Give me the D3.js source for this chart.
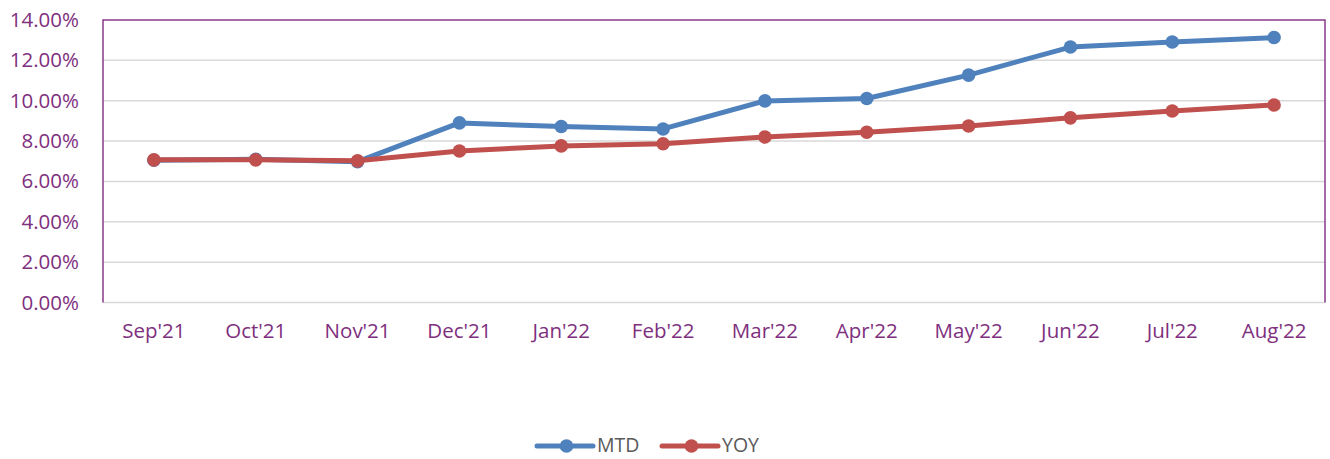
<!DOCTYPE html>
<html><head><meta charset="utf-8">
<script src="https://cdn.jsdelivr.net/npm/d3@7"></script>
<style>
html,body{margin:0;padding:0;background:#fff;}
svg{display:block;}
</style></head>
<body>
<svg id="chart" width="1330" height="459"></svg>
<script>
const categories = ["Sep'21","Oct'21","Nov'21","Dec'21","Jan'22","Feb'22","Mar'22","Apr'22","May'22","Jun'22","Jul'22","Aug'22"];
const mtd = [7.05, 7.10, 6.98, 8.90, 8.72, 8.60, 9.99, 10.11, 11.27, 12.66, 12.91, 13.13];
const yoy = [7.07, 7.07, 7.02, 7.51, 7.76, 7.87, 8.20, 8.44, 8.75, 9.15, 9.49, 9.79];
const yTicks = [0, 2, 4, 6, 8, 10, 12, 14];
const seriesNames = ["MTD", "YOY"];

const colors = {MTD: "#4F81BD", YOY: "#C0504D"};
const textColor = "#7E2F7E";
const borderColor = "#8A3A8A";
const font = "'Open Sans', 'Liberation Sans', sans-serif";
const fs = "20.5px";

const svg = d3.select("#chart");
const m = {left: 103, right: 1325, top: 20, bottom: 302.5};

const x = d3.scaleBand().domain(categories).range([m.left, m.right]);
const y = d3.scaleLinear().domain([0, 14]).range([m.bottom, m.top]);

// gridlines
svg.append("g").selectAll("line").data(yTicks.filter(t => t < 14)).join("line")
  .attr("x1", m.left).attr("x2", m.right)
  .attr("y1", d => y(d)).attr("y2", d => y(d))
  .attr("stroke", "#D9D9D9").attr("stroke-width", 1.5);

// border: top, left, right
svg.append("path")
  .attr("d", `M${m.left},${y(0)}V${m.top}H${m.right}V${y(0)}`)
  .attr("fill", "none").attr("stroke", borderColor).attr("stroke-width", 1.5);

// y axis labels
const yAxis = d3.axisLeft(y).tickValues(yTicks).tickFormat(d => d.toFixed(2) + "%").tickSize(0).tickPadding(24);
const ya = svg.append("g").attr("transform", `translate(${m.left},0)`).call(yAxis);
ya.select(".domain").remove();
ya.selectAll("text").attr("fill", textColor).style("font-family", font).style("font-size", fs);

// x axis labels
const xAxis = d3.axisBottom(x).tickSize(0).tickPadding(21);
const xa = svg.append("g").attr("transform", `translate(0,${m.bottom})`).call(xAxis);
xa.select(".domain").remove();
xa.selectAll("text").attr("fill", textColor).style("font-family", font).style("font-size", fs);

const line = d3.line().x((d, i) => x(categories[i]) + x.bandwidth() / 2).y(d => y(d));

function drawSeries(data, name) {
  const g = svg.append("g");
  g.append("path").datum(data).attr("d", line)
    .attr("fill", "none").attr("stroke", colors[name]).attr("stroke-width", 5)
    .attr("stroke-linejoin", "round");
  g.selectAll("circle").data(data).join("circle")
    .attr("cx", (d, i) => x(categories[i]) + x.bandwidth() / 2)
    .attr("cy", d => y(d)).attr("r", 6.8).attr("fill", colors[name]);
}
drawSeries(mtd, "MTD");
drawSeries(yoy, "YOY");

// legend
const legendItems = [{name: "MTD", x0: 537}, {name: "YOY", x0: 662}];
const lg = svg.append("g");
legendItems.forEach(it => {
  const ly = 446;
  lg.append("line").attr("x1", it.x0).attr("x2", it.x0 + 56).attr("y1", ly).attr("y2", ly)
    .attr("stroke", colors[it.name]).attr("stroke-width", 5).attr("stroke-linecap", "round");
  lg.append("circle").attr("cx", it.x0 + 29.5).attr("cy", ly).attr("r", 6.8).attr("fill", colors[it.name]);
  lg.append("text").attr("x", it.x0 + 60).attr("y", ly + 6).text(it.name)
    .attr("fill", "#595959").style("font-family", font).style("font-size", "19.5px");
});
</script>
</body></html>
